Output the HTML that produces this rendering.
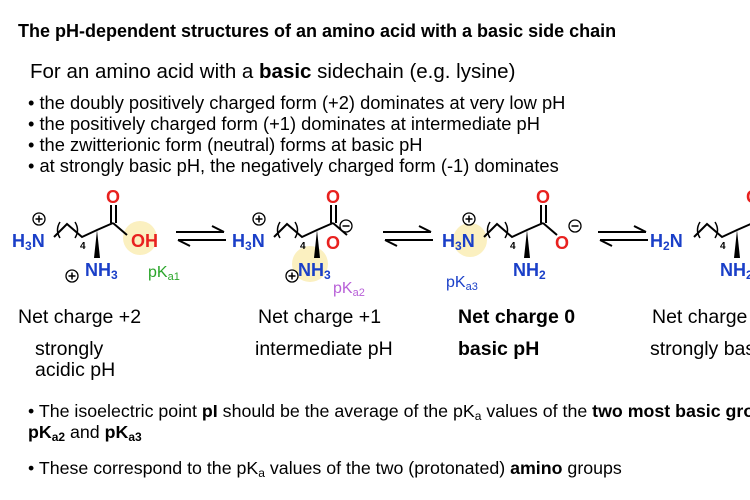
<!DOCTYPE html>
<html><head><meta charset="utf-8"><style>
html,body{margin:0;padding:0;background:#fff;width:750px;height:500px;overflow:hidden}
svg{display:block}
text{font-family:"Liberation Sans",Arial,sans-serif}
</style></head><body>
<svg width="750" height="500" viewBox="0 0 750 500" xmlns="http://www.w3.org/2000/svg">
<defs>
<g id="chain">
  <polyline points="54,237 67,224 82,237 97,230 113,223" fill="none" stroke="#000" stroke-width="2"/>
  <path d="M60,222 Q55,230 60,238" fill="none" stroke="#000" stroke-width="1.5"/>
  <path d="M75,222 Q80,230 75,238" fill="none" stroke="#000" stroke-width="1.5"/>
  <text x="80" y="249" font-size="10" font-weight="bold">4</text>
  <polygon points="97,230 94,258 100,258" fill="#000"/>
  <line x1="111" y1="223" x2="111" y2="205" stroke="#000" stroke-width="2"/>
  <line x1="116" y1="223" x2="116" y2="205" stroke="#000" stroke-width="2"/>
  <line x1="113" y1="223" x2="127" y2="235" stroke="#000" stroke-width="2"/>
  <text x="106" y="203" font-size="18" font-weight="bold" fill="#e8211f">O</text>
</g>
<g id="plus"><circle r="6" fill="#fff" stroke="#000" stroke-width="1.3"/><path d="M-3.5,0H3.5M0,-3.5V3.5" stroke="#000" stroke-width="1.5"/></g>
<g id="minus"><circle r="6" fill="#fff" stroke="#000" stroke-width="1.3"/><path d="M-3.5,0H3.5" stroke="#000" stroke-width="1.5"/></g>
<g id="eq">
  <path d="M0,232H48M36,226L48,232" fill="none" stroke="#000" stroke-width="2"/>
  <path d="M2,240H50M2,240L14,246" fill="none" stroke="#000" stroke-width="2"/>
</g>
</defs>

<text x="18" y="37" font-size="18" font-weight="bold">The pH-dependent structures of an amino acid with a basic side chain</text>
<text x="30" y="78" font-size="20.5">For an amino acid with a <tspan font-weight="bold">basic</tspan> sidechain (e.g. lysine)</text>
<text x="28" y="109" font-size="18.3">• the doubly positively charged form (+2) dominates at very low pH</text>
<text x="28" y="130" font-size="18.3">• the positively charged form (+1) dominates at intermediate pH</text>
<text x="28" y="151" font-size="18.3">• the zwitterionic form (neutral) forms at basic pH</text>
<text x="28" y="172" font-size="18.3">• at strongly basic pH, the negatively charged form (-1) dominates</text>

<!-- molecule 1 -->
<circle cx="140" cy="238" r="17" fill="#fbf0c0"/>
<use href="#chain"/>
<text x="12" y="247" font-size="18" font-weight="bold" fill="#1a3fc8">H<tspan font-size="12" dy="3">3</tspan><tspan dy="-3">N</tspan></text>
<use href="#plus" x="39" y="219"/>
<text x="85" y="276" font-size="18" font-weight="bold" fill="#1a3fc8">NH<tspan font-size="12" dy="3">3</tspan></text>
<use href="#plus" x="72" y="276"/>
<text x="131" y="247" font-size="18" font-weight="bold" fill="#e8211f">OH</text>
<text x="148" y="277" font-size="16" fill="#2aa52a">pK<tspan font-size="11" dy="3">a1</tspan></text>
<use href="#eq" x="176"/>

<!-- molecule 2 -->
<circle cx="310" cy="264" r="18" fill="#fbf0c0"/>
<g transform="translate(220,0)"><use href="#chain"/></g>
<text x="232" y="247" font-size="18" font-weight="bold" fill="#1a3fc8">H<tspan font-size="12" dy="3">3</tspan><tspan dy="-3">N</tspan></text>
<use href="#plus" x="259" y="219"/>
<text x="298" y="276" font-size="18" font-weight="bold" fill="#1a3fc8">NH<tspan font-size="12" dy="3">3</tspan></text>
<use href="#plus" x="292" y="276"/>
<text x="326" y="249" font-size="18" font-weight="bold" fill="#e8211f">O</text>
<use href="#minus" x="346" y="226"/>
<text x="333" y="293" font-size="16" fill="#b860d8">pK<tspan font-size="11" dy="3">a2</tspan></text>
<use href="#eq" x="383"/>

<!-- molecule 3 -->
<circle cx="470" cy="240" r="17" fill="#fbf0c0"/>
<g transform="translate(430,0)"><use href="#chain"/></g>
<text x="442" y="247" font-size="18" font-weight="bold" fill="#1a3fc8">H<tspan font-size="12" dy="3">3</tspan><tspan dy="-3">N</tspan></text>
<use href="#plus" x="469" y="219"/>
<text x="513" y="276" font-size="18" font-weight="bold" fill="#1a3fc8">NH<tspan font-size="12" dy="3">2</tspan></text>
<text x="555" y="249" font-size="18" font-weight="bold" fill="#e8211f">O</text>
<use href="#minus" x="575" y="226"/>
<text x="446" y="287" font-size="16" fill="#1a3fc8">pK<tspan font-size="11" dy="3">a3</tspan></text>
<use href="#eq" x="598"/>

<!-- molecule 4 -->
<g transform="translate(640,0)"><use href="#chain"/></g>
<text x="650" y="247" font-size="18" font-weight="bold" fill="#1a3fc8">H<tspan font-size="12" dy="3">2</tspan><tspan dy="-3">N</tspan></text>
<text x="720" y="276" font-size="18" font-weight="bold" fill="#1a3fc8">NH<tspan font-size="12" dy="3">2</tspan></text>

<text x="18" y="323" font-size="19.5">Net charge +2</text>
<text x="258" y="323" font-size="19.5">Net charge +1</text>
<text x="458" y="323" font-size="19.5" font-weight="bold">Net charge 0</text>
<text x="652" y="323" font-size="19.5">Net charge -</text>
<text x="35" y="355" font-size="19.5">strongly</text>
<text x="35" y="376" font-size="19.5">acidic pH</text>
<text x="255" y="355" font-size="19.5">intermediate pH</text>
<text x="458" y="355" font-size="19.5" font-weight="bold">basic pH</text>
<text x="650" y="355" font-size="19.5">strongly basic</text>

<text x="28" y="417" font-size="17.8">• The isoelectric point <tspan font-weight="bold">pI</tspan> should be the average of the pK<tspan font-size="12" dy="3">a</tspan><tspan dy="-3"> values of the </tspan><tspan font-weight="bold">two most basic groups</tspan></text>
<text x="28" y="438" font-size="17.8" font-weight="bold">pK<tspan font-size="12" dy="3">a2</tspan><tspan dy="-3" font-weight="normal"> and </tspan>pK<tspan font-size="12" dy="3">a3</tspan></text>
<text x="28" y="474" font-size="17.8">• These correspond to the pK<tspan font-size="12" dy="3">a</tspan><tspan dy="-3"> values of the two (protonated) </tspan><tspan font-weight="bold">amino</tspan> groups</text>
</svg>
</body></html>
